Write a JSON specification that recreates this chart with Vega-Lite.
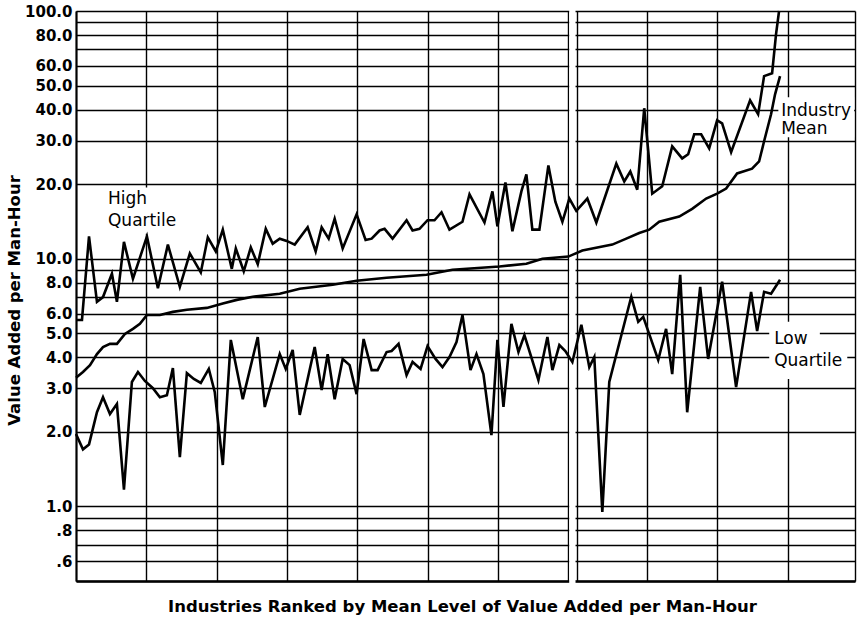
{
  "$schema": "https://vega.github.io/schema/vega-lite/v6.json",
  "width": 779,
  "height": 570,
  "autosize": {"type": "none"},
  "padding": {"left": 76, "top": 11, "right": 5, "bottom": 39},
  "background": "white",
  "config": {"view": {"stroke": null}, "font": "DejaVu Sans"},
  "datasets": {
    "lines": [
      {"series":"High","rank":0,"value":5.66},{"series":"High","rank":0.85,"value":5.66},{"series":"High","rank":1.85,"value":12.3},{"series":"High","rank":2.98,"value":6.7},{"series":"High","rank":3.84,"value":7.0},{"series":"High","rank":5.11,"value":8.7},{"series":"High","rank":5.82,"value":6.7},{"series":"High","rank":6.82,"value":11.7},{"series":"High","rank":8.1,"value":8.3},{"series":"High","rank":10.09,"value":12.3},{"series":"High","rank":11.65,"value":7.6},{"series":"High","rank":13.07,"value":11.4},{"series":"High","rank":14.77,"value":7.7},{"series":"High","rank":16.19,"value":10.5},{"series":"High","rank":17.75,"value":8.8},{"series":"High","rank":18.75,"value":12.2},{"series":"High","rank":19.89,"value":10.7},{"series":"High","rank":20.88,"value":13.1},{"series":"High","rank":22.16,"value":9.1},{"series":"High","rank":22.73,"value":11.0},{"series":"High","rank":23.86,"value":8.9},{"series":"High","rank":24.86,"value":11.1},{"series":"High","rank":25.85,"value":9.5},{"series":"High","rank":26.99,"value":13.2},{"series":"High","rank":27.98,"value":11.5},{"series":"High","rank":28.98,"value":12.05},{"series":"High","rank":29.97,"value":11.8},{"series":"High","rank":31.11,"value":11.4},{"series":"High","rank":32.95,"value":13.4},{"series":"High","rank":34.09,"value":10.7},{"series":"High","rank":34.94,"value":13.4},{"series":"High","rank":35.94,"value":12.05},{"series":"High","rank":36.79,"value":14.5},{"series":"High","rank":37.93,"value":11.0},{"series":"High","rank":39.91,"value":15.1},{"series":"High","rank":41.19,"value":11.9},{"series":"High","rank":42.05,"value":12.05},{"series":"High","rank":43.18,"value":13.0},{"series":"High","rank":43.89,"value":13.2},{"series":"High","rank":45.03,"value":12.05},{"series":"High","rank":47.02,"value":14.3},{"series":"High","rank":47.87,"value":13.0},{"series":"High","rank":48.86,"value":13.2},{"series":"High","rank":50.0,"value":14.3},{"series":"High","rank":50.99,"value":14.3},{"series":"High","rank":51.99,"value":15.4},{"series":"High","rank":53.12,"value":13.1},{"series":"High","rank":54.97,"value":14.1},{"series":"High","rank":55.97,"value":18.2},{"series":"High","rank":58.1,"value":14.0},{"series":"High","rank":59.23,"value":18.7},{"series":"High","rank":59.94,"value":13.5},{"series":"High","rank":61.08,"value":20.3},{"series":"High","rank":62.07,"value":12.9},{"series":"High","rank":63.35,"value":18.7},{"series":"High","rank":64.06,"value":21.9},{"series":"High","rank":64.91,"value":13.1},{"series":"High","rank":65.91,"value":13.1},{"series":"High","rank":67.19,"value":23.8},{"series":"High","rank":68.18,"value":17.0},{"series":"High","rank":69.18,"value":14.1},{"series":"High","rank":70.17,"value":17.5},{"series":"High","rank":71.16,"value":15.6},{"series":"High","rank":72.73,"value":17.5},{"series":"High","rank":74.01,"value":14.0},{"series":"High","rank":76.85,"value":24.2},{"series":"High","rank":77.98,"value":20.5},{"series":"High","rank":78.84,"value":22.5},{"series":"High","rank":79.83,"value":19.0},{"series":"High","rank":80.82,"value":40.5},{"series":"High","rank":81.96,"value":18.3},{"series":"High","rank":83.38,"value":19.6},{"series":"High","rank":84.8,"value":28.4},{"series":"High","rank":86.22,"value":25.4},{"series":"High","rank":87.07,"value":26.4},{"series":"High","rank":87.93,"value":31.8},{"series":"High","rank":88.92,"value":31.8},{"series":"High","rank":90.06,"value":27.9},{"series":"High","rank":91.19,"value":36.2},{"series":"High","rank":91.9,"value":35.2},{"series":"High","rank":93.18,"value":26.9},{"series":"High","rank":95.88,"value":43.6},{"series":"High","rank":97.02,"value":38.3},{"series":"High","rank":97.87,"value":54.6},{"series":"High","rank":99.01,"value":56.1},{"series":"High","rank":99.57,"value":80.7},{"series":"High","rank":100.0,"value":100},
      {"series":"Mean","rank":0,"value":3.31},{"series":"Mean","rank":0.99,"value":3.49},{"series":"Mean","rank":1.99,"value":3.72},{"series":"Mean","rank":2.98,"value":4.12},{"series":"Mean","rank":3.84,"value":4.4},{"series":"Mean","rank":4.83,"value":4.53},{"series":"Mean","rank":5.82,"value":4.53},{"series":"Mean","rank":6.96,"value":4.97},{"series":"Mean","rank":8.1,"value":5.21},{"series":"Mean","rank":9.09,"value":5.46},{"series":"Mean","rank":10.09,"value":5.93},{"series":"Mean","rank":11.93,"value":5.93},{"series":"Mean","rank":13.78,"value":6.1},{"series":"Mean","rank":15.77,"value":6.22},{"series":"Mean","rank":18.61,"value":6.33},{"series":"Mean","rank":20.88,"value":6.6},{"series":"Mean","rank":22.87,"value":6.82},{"series":"Mean","rank":25.14,"value":7.02},{"series":"Mean","rank":28.98,"value":7.22},{"series":"Mean","rank":31.82,"value":7.56},{"series":"Mean","rank":36.51,"value":7.85},{"series":"Mean","rank":39.91,"value":8.15},{"series":"Mean","rank":44.18,"value":8.38},{"series":"Mean","rank":49.86,"value":8.61},{"series":"Mean","rank":53.55,"value":9.03},{"series":"Mean","rank":60.23,"value":9.3},{"series":"Mean","rank":64.06,"value":9.55},{"series":"Mean","rank":66.34,"value":10.0},{"series":"Mean","rank":70.03,"value":10.2},{"series":"Mean","rank":72.02,"value":10.8},{"series":"Mean","rank":76.28,"value":11.4},{"series":"Mean","rank":78.27,"value":12.05},{"series":"Mean","rank":80.11,"value":12.7},{"series":"Mean","rank":81.53,"value":13.1},{"series":"Mean","rank":82.95,"value":14.1},{"series":"Mean","rank":85.8,"value":14.8},{"series":"Mean","rank":87.64,"value":15.9},{"series":"Mean","rank":89.63,"value":17.5},{"series":"Mean","rank":91.19,"value":18.3},{"series":"Mean","rank":92.47,"value":19.2},{"series":"Mean","rank":94.03,"value":22.1},{"series":"Mean","rank":96.16,"value":23.1},{"series":"Mean","rank":97.16,"value":24.7},{"series":"Mean","rank":97.87,"value":29.8},{"series":"Mean","rank":98.86,"value":38.3},{"series":"Mean","rank":99.43,"value":46.1},{"series":"Mean","rank":100.14,"value":54.6},
      {"series":"Low","rank":0,"value":1.96},{"series":"Low","rank":0.99,"value":1.7},{"series":"Low","rank":1.85,"value":1.78},{"series":"Low","rank":2.98,"value":2.4},{"series":"Low","rank":3.84,"value":2.76},{"series":"Low","rank":4.83,"value":2.36},{"series":"Low","rank":5.82,"value":2.59},{"series":"Low","rank":6.82,"value":1.17},{"series":"Low","rank":7.95,"value":3.18},{"series":"Low","rank":8.81,"value":3.49},{"series":"Low","rank":9.8,"value":3.21},{"series":"Low","rank":10.94,"value":3.0},{"series":"Low","rank":11.93,"value":2.76},{"series":"Low","rank":12.93,"value":2.81},{"series":"Low","rank":13.78,"value":3.62},{"series":"Low","rank":14.77,"value":1.58},{"series":"Low","rank":15.77,"value":3.45},{"series":"Low","rank":16.76,"value":3.27},{"series":"Low","rank":17.75,"value":3.15},{"series":"Low","rank":18.89,"value":3.59},{"series":"Low","rank":19.74,"value":2.89},{"series":"Low","rank":20.88,"value":1.47},{"series":"Low","rank":22.02,"value":4.7},{"series":"Low","rank":23.72,"value":2.71},{"series":"Low","rank":25.85,"value":4.83},{"series":"Low","rank":26.85,"value":2.52},{"series":"Low","rank":28.98,"value":4.12},{"series":"Low","rank":29.83,"value":3.59},{"series":"Low","rank":30.82,"value":4.28},{"series":"Low","rank":31.82,"value":2.34},{"series":"Low","rank":33.95,"value":4.4},{"series":"Low","rank":34.94,"value":2.95},{"series":"Low","rank":35.8,"value":4.12},{"series":"Low","rank":36.79,"value":2.71},{"series":"Low","rank":37.93,"value":3.94},{"series":"Low","rank":38.92,"value":3.72},{"series":"Low","rank":39.91,"value":2.84},{"series":"Low","rank":40.91,"value":4.74},{"series":"Low","rank":42.05,"value":3.55},{"series":"Low","rank":42.9,"value":3.55},{"series":"Low","rank":44.18,"value":4.2},{"series":"Low","rank":44.89,"value":4.24},{"series":"Low","rank":45.88,"value":4.53},{"series":"Low","rank":47.02,"value":3.39},{"series":"Low","rank":47.87,"value":3.83},{"series":"Low","rank":49.01,"value":3.59},{"series":"Low","rank":50.0,"value":4.44},{"series":"Low","rank":51.14,"value":3.94},{"series":"Low","rank":52.13,"value":3.65},{"series":"Low","rank":53.12,"value":4.01},{"series":"Low","rank":54.12,"value":4.61},{"series":"Low","rank":54.97,"value":5.93},{"series":"Low","rank":56.11,"value":3.55},{"series":"Low","rank":56.96,"value":4.12},{"series":"Low","rank":57.95,"value":3.42},{"series":"Low","rank":59.09,"value":1.94},{"series":"Low","rank":59.94,"value":4.7},{"series":"Low","rank":60.8,"value":2.52},{"series":"Low","rank":61.93,"value":5.46},{"series":"Low","rank":62.93,"value":4.2},{"series":"Low","rank":63.78,"value":4.92},{"series":"Low","rank":65.77,"value":3.24},{"series":"Low","rank":67.05,"value":4.83},{"series":"Low","rank":67.76,"value":3.55},{"series":"Low","rank":68.75,"value":4.48},{"series":"Low","rank":69.6,"value":4.24},{"series":"Low","rank":70.6,"value":3.83},{"series":"Low","rank":71.88,"value":5.41},{"series":"Low","rank":73.01,"value":3.65},{"series":"Low","rank":73.72,"value":4.01},{"series":"Low","rank":74.86,"value":0.95},{"series":"Low","rank":75.85,"value":3.18},{"series":"Low","rank":78.98,"value":7.02},{"series":"Low","rank":79.97,"value":5.56},{"series":"Low","rank":80.68,"value":5.82},{"series":"Low","rank":82.81,"value":3.9},{"series":"Low","rank":83.93,"value":5.21},{"series":"Low","rank":84.8,"value":3.42},{"series":"Low","rank":85.94,"value":8.61},{"series":"Low","rank":86.93,"value":2.4},{"series":"Low","rank":88.78,"value":7.7},{"series":"Low","rank":89.91,"value":3.94},{"series":"Low","rank":91.9,"value":8.07},{"series":"Low","rank":93.89,"value":3.03},{"series":"Low","rank":96.02,"value":7.35},{"series":"Low","rank":96.88,"value":5.11},{"series":"Low","rank":97.87,"value":7.35},{"series":"Low","rank":98.86,"value":7.22},{"series":"Low","rank":100.14,"value":8.22}
    ],
    "boxes": [
      {"part":"gap","rank":70.15,"rank2":71.05,"value":0.49,"value2":101},
      {"part":"High Quartile","rank":0.4,"rank2":14.8,"value":12.6,"value2":19.4},
      {"part":"Industry Mean","rank":99.9,"rank2":110.68,"value":30.9,"value2":44.9},
      {"part":"Low","rank":98.6,"rank2":105.8,"value":4.4,"value2":5.56},
      {"part":"Quartile","rank":98.6,"rank2":109.7,"value":3.27,"value2":4.4}
    ],
    "labels": [
      {"label":"High","rank":4.55,"value":16.6},
      {"label":"Quartile","rank":4.55,"value":13.6},
      {"label":"Industry","rank":100.3,"value":37.6},
      {"label":"Mean","rank":100.3,"value":31.8},
      {"label":"Low","rank":99.3,"value":4.53},
      {"label":"Quartile","rank":99.3,"value":3.69}
    ]
  },
  "encoding": {
    "x": {
      "field": "rank",
      "type": "quantitative",
      "scale": {"domain": [0, 110.8], "nice": false, "zero": false},
      "axis": {
        "values": [0, 10, 20, 30, 40, 50, 60, 70, 71.2, 81.2, 91.2, 101.2, 110.8],
        "labels": false,
        "ticks": false,
        "grid": true,
        "gridColor": "black",
        "gridWidth": 1.4,
        "gridOpacity": 1,
        "domainColor": "black",
        "domainWidth": 2.5,
        "title": "Industries Ranked by Mean Level of Value Added per Man-Hour",
        "titleFont": "DejaVu Sans",
        "titleFontSize": 16.5,
        "titleFontWeight": "bold",
        "titleColor": "black",
        "titleX": 386,
        "titleY": 30,
        "titleAlign": "center",
        "titleBaseline": "alphabetic"
      }
    },
    "y": {
      "field": "value",
      "type": "quantitative",
      "scale": {"type": "log", "domain": [0.5, 100], "nice": false},
      "axis": {
        "values": [0.5, 0.6, 0.7, 0.8, 0.9, 1, 2, 3, 4, 5, 6, 7, 8, 9, 10, 20, 30, 40, 50, 60, 70, 80, 90, 100],
        "ticks": false,
        "labelExpr": "datum.value >= 1 ? (indexof([1,2,3,4,5,6,8,10,20,30,40,50,60,80,100], datum.value) >= 0 ? format(datum.value, '.1f') : '') : (datum.value == 0.8 ? '.8' : (datum.value == 0.6 ? '.6' : ''))",
        "labelFont": "DejaVu Sans",
        "labelFontSize": 15,
        "labelFontWeight": "bold",
        "labelColor": "black",
        "labelPadding": 4,
        "labelOverlap": false,
        "labelBaseline": "middle",
        "grid": true,
        "gridColor": "black",
        "gridWidth": 1.4,
        "gridOpacity": 1,
        "domainColor": "black",
        "domainWidth": 2,
        "title": "Value Added per Man-Hour",
        "titleFont": "DejaVu Sans",
        "titleFontSize": 16.5,
        "titleFontWeight": "bold",
        "titleColor": "black",
        "titleX": -62,
        "titleY": 289,
        "titleAngle": -90,
        "titleAlign": "center",
        "titleBaseline": "middle"
      }
    }
  },
  "layer": [
    {
      "data": {"name": "boxes"},
      "mark": {"type": "rect", "fill": "white", "stroke": null, "clip": false},
      "encoding": {"x2": {"field": "rank2"}, "y2": {"field": "value2"}}
    },
    {
      "data": {"name": "lines"},
      "mark": {"type": "line", "color": "black", "strokeWidth": 2.6, "strokeJoin": "miter", "strokeMiterLimit": 4},
      "encoding": {"detail": {"field": "series"}}
    },
    {
      "data": {"name": "labels"},
      "mark": {"type": "text", "align": "left", "baseline": "alphabetic", "font": "DejaVu Sans", "fontSize": 17, "fontWeight": "normal", "color": "black"},
      "encoding": {"text": {"field": "label"}}
    }
  ]
}
